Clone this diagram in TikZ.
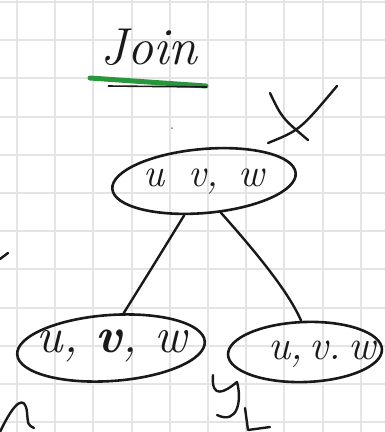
\documentclass[tikz,border=0pt]{standalone}
\usepackage{fontspec}
\usetikzlibrary{shapes.geometric}
\definecolor{gridc}{RGB}{228,228,228}
\definecolor{pencol}{RGB}{25,25,25}
\definecolor{markercol}{RGB}{40,150,60}
\tikzset{
  gridline/.style={draw=gridc, line width=2pt},
  penline/.style={draw=pencol, line width=2.4pt, line cap=round, line join=round},
  bag/.style={ellipse, draw=pencol, line width=2.6pt, inner sep=0pt},
  baglabel/.style={text=pencol, inner sep=0pt},
}
\begin{document}
\begin{tikzpicture}[x=1pt,y=-1pt]
\useasboundingbox (0,0) rectangle (385,432);
\fill[white] (0,0) rectangle (385,432);
% grid paper
\foreach \i in {0,...,9} \draw[gridline] ({17+38.2*\i},0) -- ({17+38.2*\i},432);
\foreach \j in {0,...,11} \draw[gridline] (0,{2+38.2*\j}) -- (385,{2+38.2*\j});
% title
\node[font=\fontsize{52}{52}\selectfont\itshape, text=pencol, anchor=base, inner sep=0pt] (title) at (149,64) {Join};
\draw[draw=markercol, line width=5pt, line cap=round] (90,78) -- (206,86);
\draw[draw=pencol, line width=1.6pt] (108,86) -- (207,87);
\fill[gray] (172,128) circle (1pt);
% bags
\node[bag, minimum width=184pt, minimum height=64pt, rotate=5] (top) at (204,181) {};
\node[baglabel, font=\fontsize{40}{40}\selectfont\itshape] (toplab) at (204,182) {u\hspace{0.6em}v,\hspace{0.5em}w};
\node[bag, minimum width=188pt, minimum height=66pt, rotate=4] (left) at (111,348) {};
\node[baglabel, font=\fontsize{50}{50}\selectfont\itshape] (leftlab) at (112,346) {u, {\bfseries v}, w};
\node[bag, minimum width=154pt, minimum height=60pt, rotate=2] (right) at (305,352) {};
\node[baglabel, font=\fontsize{42}{42}\selectfont\itshape] (rightlab) at (322,354) {u,\,v.\,w};
% edges
\draw[penline] (top.235) .. controls (158,258) .. (left.66);
\draw[penline] (top.293) .. controls (272,270) and (292,300) .. (right.95);
% stray marks
\draw[penline] (270,93) .. controls (282,118) .. (308,140);
\draw[penline] (337,86) .. controls (300,130) .. (268,143);
\draw[penline] (0,259) -- (8,253);
\draw[penline] (0,432) .. controls (15,400) and (25,395) .. (27,412) .. controls (28,425) .. (34,428);
\draw[penline] (213,375) .. controls (211,400) and (225,392) .. (237,382);
\draw[penline] (237,382) .. controls (242,400) and (238,425) .. (217,415);
\draw[penline] (245,408) -- (248,430) -- (270,427);
\end{tikzpicture}
\end{document}
